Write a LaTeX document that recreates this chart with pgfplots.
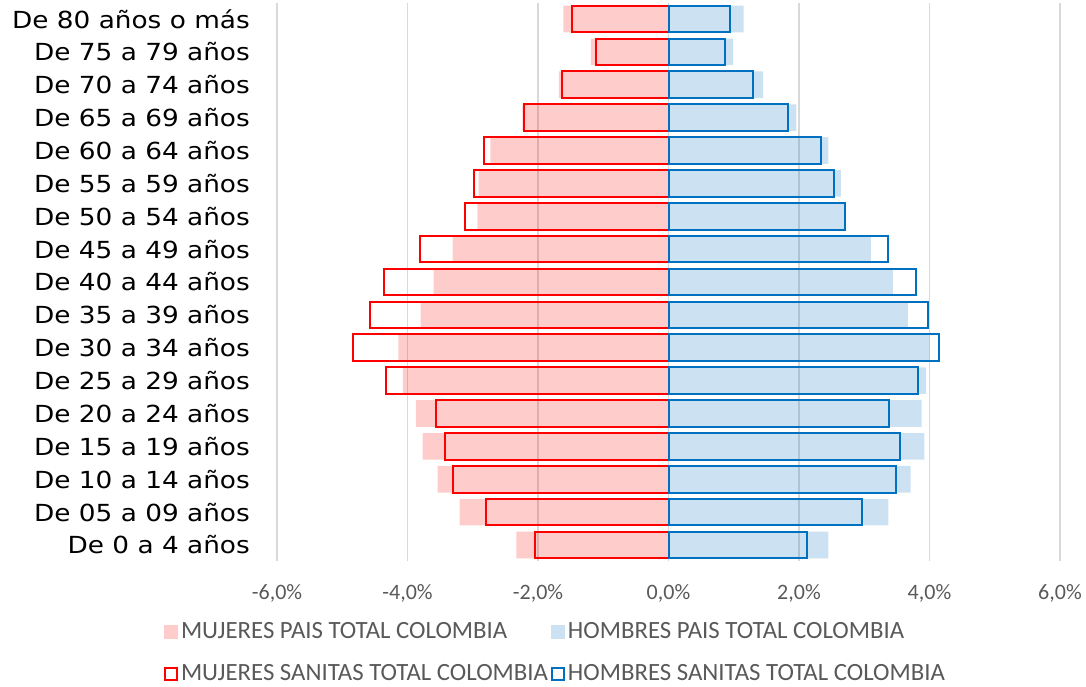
\documentclass[border=0pt]{standalone}
\usepackage{pgfplots}
\pgfplotsset{compat=1.18}
\usepackage{fontspec}
\setmainfont{Carlito}
\newfontfamily\vfont[FakeStretch=1.12]{DejaVu Sans}
\definecolor{txtgray}{HTML}{595959}
\definecolor{gridgray}{HTML}{D9D9D9}
\definecolor{sblue}{HTML}{0070C0}
\begin{document}
\begin{tikzpicture}
\useasboundingbox (0,0) rectangle (1086pt,687pt);
\begin{axis}[
  at={(277pt,125.6pt)}, anchor=south west,
  scale only axis, width=783pt, height=558.8pt,
  xmin=-6, xmax=6, ymin=-0.5, ymax=16.5,
  axis line style={draw=none},
  major tick length=0pt,
  xtick={-6,-4,-2,0,2,4,6},
  xticklabels={{-6,0\%},{-4,0\%},{-2,0\%},{0,0\%},{2,0\%},{4,0\%},{6,0\%}},
  xticklabel style={font=\fontsize{22}{26}\selectfont, text=txtgray, inner sep=0pt, anchor=base, yshift=-38.6pt},
  xmajorgrids, major grid style={gridgray, line width=1.2pt},
  ytick={0,...,16},
  yticklabels={De 0 a 4 años, De 05 a 09 años, De 10 a 14 años, De 15 a 19 años, De 20 a 24 años, De 25 a 29 años, De 30 a 34 años, De 35 a 39 años, De 40 a 44 años, De 45 a 49 años, De 50 a 54 años, De 55 a 59 años, De 60 a 64 años, De 65 a 69 años, De 70 a 74 años, De 75 a 79 años, De 80 años o más},
  yticklabel style={font=\vfont\fontsize{23.5}{27}\selectfont, text=black, inner sep=0pt, anchor=east, xshift=-27pt},
  legend columns=2,
  legend cell align=left,
  legend style={draw=none, fill=none, inner sep=0pt, outer sep=0pt,
    at={(-0.1443,-0.1013)}, anchor=north west,
    font=\fontsize{24.8}{28}\selectfont, text=txtgray,
    nodes={inner sep=3pt, text height=17pt, text depth=5pt},
    /tikz/every even column/.append style={column sep=0pt},
    row sep=14pt},
]
\addplot[xbar, bar width=0.81, bar shift=0pt, draw=none, fill=red, fill opacity=0.2,
  legend image code/.code={\fill[red, fill opacity=0.2] (0pt,-7pt) rectangle (14pt,7pt);}]
  coordinates {(-2.33,0) (-3.20,1) (-3.54,2) (-3.77,3) (-3.87,4) (-4.07,5) (-4.14,6) (-3.80,7) (-3.60,8) (-3.31,9) (-2.93,10) (-2.91,11) (-2.73,12) (-2.24,13) (-1.68,14) (-1.19,15) (-1.61,16)};
\addlegendentry{MUJERES PAIS TOTAL COLOMBIA}
\addplot[xbar, bar width=0.81, bar shift=0pt, draw=none, fill=sblue, fill opacity=0.2,
  legend image code/.code={\fill[sblue, fill opacity=0.2] (0pt,-7pt) rectangle (14pt,7pt);}]
  coordinates {(2.45,0) (3.37,1) (3.71,2) (3.92,3) (3.88,4) (3.95,5) (4.00,6) (3.67,7) (3.44,8) (3.10,9) (2.70,10) (2.64,11) (2.45,12) (1.96,13) (1.45,14) (0.99,15) (1.15,16)};
\addlegendentry{HOMBRES PAIS TOTAL COLOMBIA}
\addplot[xbar, bar width=0.81, bar shift=0pt, draw=red, line width=2pt, fill=none,
  legend image code/.code={\draw[red, line width=2pt] (1pt,-6pt) rectangle (13pt,6pt);}]
  coordinates {(-2.04,0) (-2.80,1) (-3.30,2) (-3.42,3) (-3.56,4) (-4.33,5) (-4.83,6) (-4.58,7) (-4.36,8) (-3.81,9) (-3.12,10) (-2.98,11) (-2.82,12) (-2.22,13) (-1.63,14) (-1.11,15) (-1.48,16)};
\addlegendentry{MUJERES SANITAS TOTAL COLOMBIA}
\addplot[xbar, bar width=0.81, bar shift=0pt, draw=sblue, line width=2pt, fill=none,
  legend image code/.code={\draw[sblue, line width=2pt] (1pt,-6pt) rectangle (13pt,6pt);}]
  coordinates {(2.13,0) (2.96,1) (3.48,2) (3.55,3) (3.38,4) (3.82,5) (4.15,6) (3.97,7) (3.80,8) (3.36,9) (2.71,10) (2.53,11) (2.34,12) (1.83,13) (1.30,14) (0.86,15) (0.94,16)};
\addlegendentry{HOMBRES SANITAS TOTAL COLOMBIA}
\end{axis}
\end{tikzpicture}
\end{document}
